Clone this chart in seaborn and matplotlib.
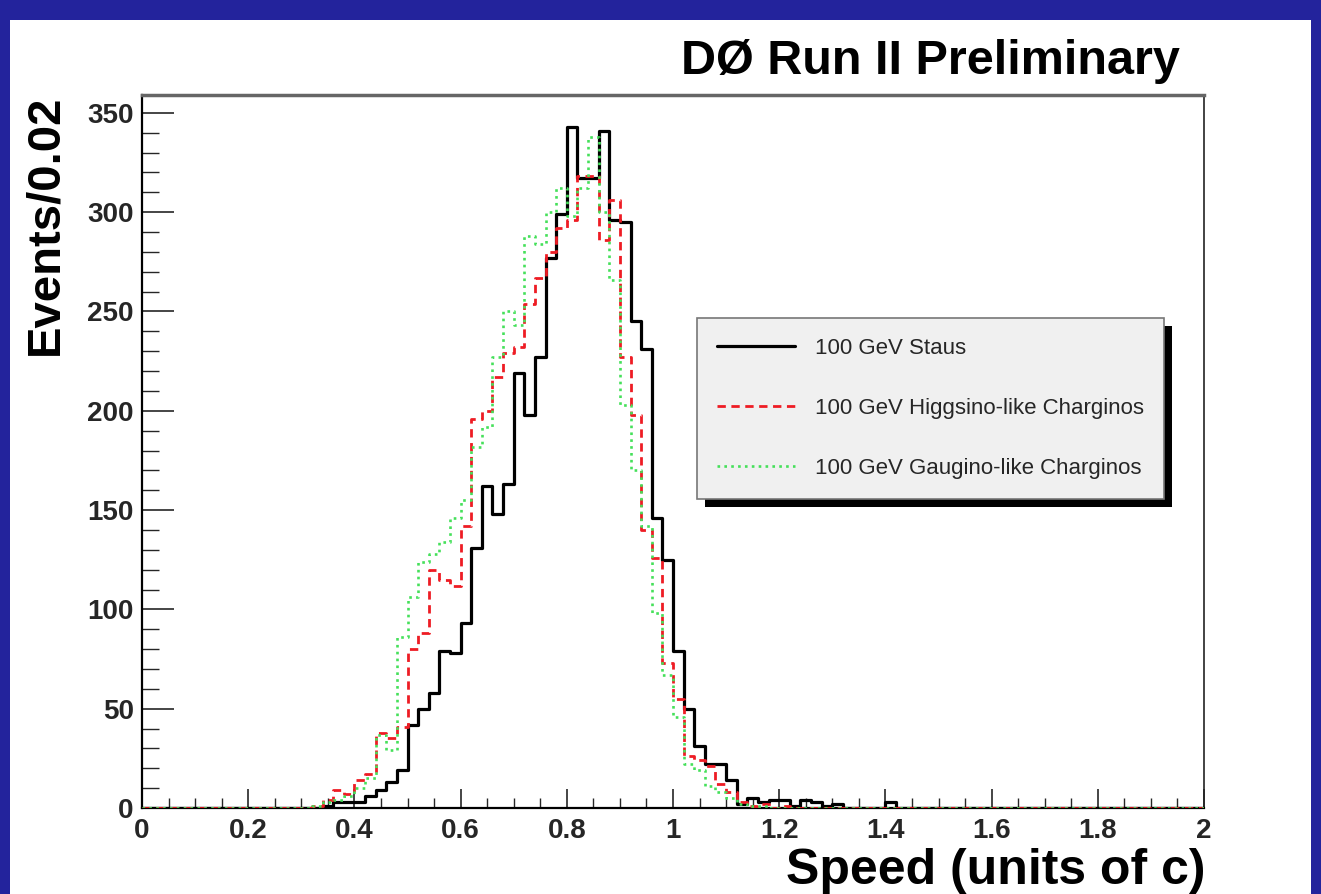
import numpy as np
import matplotlib
matplotlib.use("Agg")
import matplotlib.pyplot as plt
import seaborn as sns
import pandas as pd
from matplotlib.patches import Rectangle
from matplotlib.lines import Line2D
from matplotlib.ticker import MultipleLocator

# ---------------- data (counts per 0.02 bin, first listed bin starts at 0.30) ----------------
BIN_WIDTH = 0.02
X_MIN, X_MAX = 0.0, 2.0
FIRST_LISTED_EDGE = 0.30

staus = [0, 0, 1, 3, 3, 3, 6, 9, 13, 19,
         42, 50, 58, 79, 78, 93, 131, 162, 148, 163,
         219, 198, 227, 277, 299, 343, 317, 317, 341, 296,
         295, 245, 231, 146, 125, 79, 50, 31, 22, 22,
         14, 2, 5, 3, 4, 4, 1, 4, 3, 1,
         2, 0, 0, 0, 0, 3, 0]

higgsino = [0, 1, 4, 9, 7, 14, 17, 38, 35, 41,
            80, 88, 120, 115, 112, 142, 196, 200, 217, 229,
            232, 254, 267, 280, 292, 296, 318, 318, 286, 306,
            227, 198, 140, 126, 73, 55, 26, 24, 21, 12,
            8, 3, 1, 2, 0, 1, 0, 0, 0, 0,
            0, 0, 0, 0, 0, 0, 0]

gaugino = [0, 1, 3, 4, 6, 10, 15, 37, 29, 86,
           106, 124, 128, 134, 146, 155, 182, 192, 227, 250,
           243, 288, 284, 300, 312, 298, 312, 338, 300, 266,
           203, 170, 142, 98, 67, 46, 22, 19, 11, 8,
           5, 2, 1, 1, 0, 0, 0, 0, 0, 0,
           0, 0, 0, 0, 0, 0, 0]

series_labels = ["100 GeV Staus",
                 "100 GeV Higgsino-like Charginos",
                 "100 GeV Gaugino-like Charginos"]

x_ticks = [0, 0.2, 0.4, 0.6, 0.8, 1.0, 1.2, 1.4, 1.6, 1.8, 2.0]
x_tick_labels = ["0", "0.2", "0.4", "0.6", "0.8", "1", "1.2", "1.4", "1.6", "1.8", "2"]
y_ticks = [0, 50, 100, 150, 200, 250, 300, 350]
y_tick_labels = ["0", "50", "100", "150", "200", "250", "300", "350"]

title_text = "D\u00d8 Run II Preliminary"
x_label = "Speed (units of c)"
y_label = "Events/0.02"

# ---------------- styling ----------------
sns.set_style("white")
plt.rcParams['font.family'] = ['Liberation Sans', 'DejaVu Sans']

BLUE = "#23239c"
W, H = 1321, 894

n_bins = int(round((X_MAX - X_MIN) / BIN_WIDTH))
edges = [round(float(e), 4) for e in np.linspace(X_MIN, X_MAX, n_bins + 1)]
centers = np.array(edges[:-1]) + BIN_WIDTH / 2


def full_counts(listed):
    arr = np.zeros(n_bins)
    start = int(round(FIRST_LISTED_EDGE / BIN_WIDTH))
    arr[start:start + len(listed)] = listed
    return arr


fig = plt.figure(figsize=(W / 100, H / 100), dpi=100, facecolor=BLUE)
# white slide area inside the blue border
fig.add_artist(Rectangle((10 / W, 0), (1311 - 10) / W, (H - 20) / H,
                         transform=fig.transFigure, facecolor="white",
                         edgecolor="none", zorder=-1))

ax_left, ax_right, ax_top, ax_bottom = 142, 1204, 95, 808
ax = fig.add_axes([ax_left / W, 1 - ax_bottom / H,
                   (ax_right - ax_left) / W, (ax_bottom - ax_top) / H])
ax.set_facecolor("white")

styles = [
    dict(color="black", linestyle="-", linewidth=2.3),
    dict(color="#ee1c24", linestyle=(0, (3, 2)), linewidth=2.0),
    dict(color="#45e05a", linestyle=(0, (1, 1.6)), linewidth=1.9),
]

for counts, st in zip([staus, higgsino, gaugino], styles):
    df = pd.DataFrame({"speed": centers, "events": full_counts(counts)})
    sns.histplot(data=df, x="speed", weights="events", bins=edges,
                 element="step", fill=False, ax=ax, zorder=3, **st)

ax.set_xlim(X_MIN, X_MAX)
ax.set_ylim(0, 359)
ax.set_xlabel("")
ax.set_ylabel("")

ax.set_xticks(x_ticks, labels=x_tick_labels, fontsize=20, fontweight="bold")
ax.set_yticks(y_ticks, labels=y_tick_labels, fontsize=20, fontweight="bold")
ax.xaxis.set_minor_locator(MultipleLocator(0.05))
ax.yaxis.set_minor_locator(MultipleLocator(10))
ax.tick_params(axis="x", which="major", direction="in", length=14, width=1.2, pad=7, bottom=True, top=False)
ax.tick_params(axis="x", which="minor", direction="in", length=7, width=1.0, bottom=True, top=False)
ax.tick_params(axis="y", which="major", direction="in", length=23, width=1.2, pad=6, left=True, right=False)
ax.tick_params(axis="y", which="minor", direction="in", length=12, width=1.0, left=True, right=False)

for side in ["left", "bottom"]:
    ax.spines[side].set_color("black")
    ax.spines[side].set_linewidth(1.6)
ax.spines["right"].set_color("#222222")
ax.spines["right"].set_linewidth(1.2)
ax.spines["top"].set_color("#666666")
ax.spines["top"].set_linewidth(2.5)

# legend
handles = [Line2D([], [], **st) for st in styles]
leg = ax.legend(handles, series_labels, loc="upper left",
                bbox_to_anchor=((697 - ax_left) / (ax_right - ax_left),
                                (ax_bottom - 318) / (ax_bottom - ax_top)),
                frameon=True, fancybox=False, framealpha=1,
                facecolor="#f0f0f0", edgecolor="#777777",
                fontsize=16, handlelength=3.5, handletextpad=0.9,
                borderpad=0.9, labelspacing=1.75, borderaxespad=0)
leg.get_frame().set_linewidth(1.2)
leg.set_zorder(6)

# titles / axis labels
fig.text(1180 / W, 1 - 62 / H, title_text, ha="right", va="center",
         fontsize=35, fontweight="bold", color="black")
fig.text(1205 / W, 1 - 884 / H, x_label, ha="right", va="baseline",
         fontsize=36, fontweight="bold", color="black")
fig.text(45 / W, 1 - 95 / H, y_label, ha="center", va="top", rotation=90,
         fontsize=34, fontweight="bold", color="black")

# legend drop shadow (black, offset right/down)
fig.canvas.draw()
bb = leg.get_window_extent()
inv = ax.transAxes.inverted()
(x0, y0) = inv.transform((bb.x0 + 8, bb.y0 - 8))
(x1, y1) = inv.transform((bb.x1 + 8, bb.y1 - 8))
ax.add_patch(Rectangle((x0, y0), x1 - x0, y1 - y0, transform=ax.transAxes,
                       facecolor="black", edgecolor="none", zorder=5.5,
                       clip_on=False))

fig.savefig("out.png", dpi=100, facecolor=fig.get_facecolor())
